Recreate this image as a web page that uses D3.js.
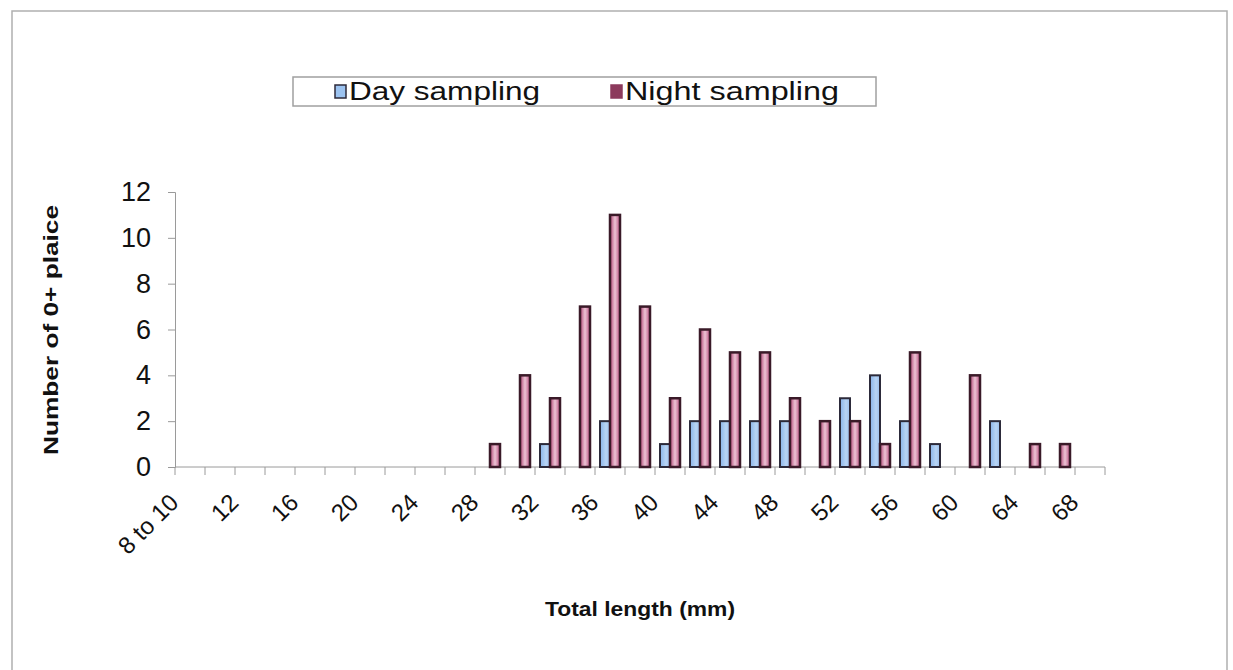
<!DOCTYPE html>
<html>
<head>
<meta charset="utf-8">
<script src="https://cdn.jsdelivr.net/npm/d3@7"></script>
<style>
  body { margin: 0; background: #fff; }
  text { font-family: "Liberation Sans", Arial, sans-serif; }
</style>
</head>
<body>
<div id="chart"></div>
<script>
// Length classes (mm) and counts of 0+ plaice
var categories = ['8 to 10', '10', '12', '14', '16', '18', '20', '22', '24', '26', '28', '30',
  '32', '34', '36', '38', '40', '42', '44', '46', '48', '50', '52', '54', '56', '58',
  '60', '62', '64', '66', '68'];
var daySampling = [0, 0, 0, 0, 0, 0, 0, 0, 0, 0, 0, 0,
  1, 0, 2, 0, 1, 2, 2, 2, 2, 0, 3, 4, 2, 1,
  0, 2, 0, 0, 0];
var nightSampling = [0, 0, 0, 0, 0, 0, 0, 0, 0, 0, 1, 4,
  3, 7, 11, 7, 3, 6, 5, 5, 3, 2, 2, 1, 5, 0,
  4, 0, 1, 1, 0];
var seriesNames = ['Day sampling', 'Night sampling'];
var yTicks = [0, 2, 4, 6, 8, 10, 12];

var W = 1233, H = 670;
var plot = { left: 175, right: 1105, top: 192, bottom: 467 };

var svg = d3.select('#chart')
  .append('svg')
  .attr('width', W)
  .attr('height', H);

// outer frame (bottom edge is cut off in the original)
svg.append('path')
  .attr('d', 'M12,670 V11 H1227 V670')
  .attr('fill', 'none')
  .attr('stroke', '#b0b0b0')
  .attr('stroke-width', 1.5);

var x = d3.scaleBand()
  .domain(categories)
  .range([plot.left, plot.right])
  .padding(0);

var xs = d3.scaleBand()
  .domain(['day', 'night'])
  .range([0, x.bandwidth()])
  .paddingInner(0)
  .paddingOuter(0.5);

var y = d3.scaleLinear()
  .domain([0, 12])
  .range([plot.bottom, plot.top]);

// y axis
var yAxis = svg.append('g')
  .attr('transform', 'translate(' + plot.left + ',0)')
  .call(d3.axisLeft(y).tickValues(yTicks).tickSize(7).tickPadding(17));
yAxis.select('.domain').attr('stroke', '#9a9a9a');
yAxis.selectAll('.tick line').attr('stroke', '#9a9a9a');
yAxis.selectAll('.tick text')
  .style('font-size', '27px')
  .attr('fill', '#111');

// x axis line and category boundary ticks
svg.append('line')
  .attr('x1', plot.left).attr('x2', plot.right)
  .attr('y1', plot.bottom).attr('y2', plot.bottom)
  .attr('stroke', '#9a9a9a');

svg.selectAll('.xtick')
  .data(categories.concat(['end']))
  .enter()
  .append('line')
  .attr('class', 'xtick')
  .attr('x1', function (d, i) { return plot.left + i * x.step(); })
  .attr('x2', function (d, i) { return plot.left + i * x.step(); })
  .attr('y1', plot.bottom)
  .attr('y2', plot.bottom + 8)
  .attr('stroke', '#9a9a9a');

// x labels every other category, rotated
svg.selectAll('.xlabel')
  .data(categories.filter(function (d, i) { return i % 2 === 0; }))
  .enter()
  .append('text')
  .attr('class', 'xlabel')
  .attr('transform', function (d) {
    return 'translate(' + (x(d) + x.bandwidth() / 2 - 16) + ',' + (plot.bottom + 31) + ') rotate(-45)';
  })
  .attr('text-anchor', 'end')
  .attr('dy', '0.35em')
  .style('font-size', '24px')
  .attr('fill', '#111')
  .text(function (d) { return d; });

// bars
var defs = svg.append('defs');
var dayGrad = defs.append('linearGradient')
  .attr('id', 'dayGrad').attr('x1', 0).attr('x2', 1).attr('y1', 0).attr('y2', 0);
dayGrad.append('stop').attr('offset', '0%').attr('stop-color', '#8ab4ea');
dayGrad.append('stop').attr('offset', '60%').attr('stop-color', '#b8d4f4');
dayGrad.append('stop').attr('offset', '100%').attr('stop-color', '#98bdec');

var nightGrad = defs.append('linearGradient')
  .attr('id', 'nightGrad').attr('x1', 0).attr('x2', 1).attr('y1', 0).attr('y2', 0);
nightGrad.append('stop').attr('offset', '0%').attr('stop-color', '#b04474');
nightGrad.append('stop').attr('offset', '50%').attr('stop-color', '#ecc4d4');
nightGrad.append('stop').attr('offset', '100%').attr('stop-color', '#b85080');

svg.selectAll('.day-bar')
  .data(daySampling.map(function (v, i) { return { cat: categories[i], v: v }; })
    .filter(function (d) { return d.v > 0; }))
  .enter()
  .append('rect')
  .attr('class', 'day-bar')
  .attr('x', function (d) { return x(d.cat) + xs('day'); })
  .attr('y', function (d) { return y(d.v); })
  .attr('width', xs.bandwidth())
  .attr('height', function (d) { return y(0) - y(d.v); })
  .attr('fill', 'url(#dayGrad)')
  .attr('stroke', '#2c2a3a')
  .attr('stroke-width', 2);

svg.selectAll('.night-bar')
  .data(nightSampling.map(function (v, i) { return { cat: categories[i], v: v }; })
    .filter(function (d) { return d.v > 0; }))
  .enter()
  .append('rect')
  .attr('class', 'night-bar')
  .attr('x', function (d) { return x(d.cat) + xs('night'); })
  .attr('y', function (d) { return y(d.v); })
  .attr('width', xs.bandwidth())
  .attr('height', function (d) { return y(0) - y(d.v); })
  .attr('fill', 'url(#nightGrad)')
  .attr('stroke', '#3a1a28')
  .attr('stroke-width', 2.5);

// axis titles
svg.append('text')
  .attr('transform', 'translate(58,330) rotate(-90)')
  .attr('text-anchor', 'middle')
  .style('font-size', '21px')
  .style('font-weight', 'bold')
  .attr('fill', '#111')
  .attr('textLength', 250)
  .attr('lengthAdjust', 'spacingAndGlyphs')
  .text('Number of 0+ plaice');

svg.append('text')
  .attr('x', 640).attr('y', 616)
  .attr('text-anchor', 'middle')
  .style('font-size', '21px')
  .style('font-weight', 'bold')
  .attr('fill', '#111')
  .attr('textLength', 190)
  .attr('lengthAdjust', 'spacingAndGlyphs')
  .text('Total length (mm)');

// legend
var legend = svg.append('g');
legend.append('rect')
  .attr('x', 293).attr('y', 77)
  .attr('width', 583).attr('height', 29)
  .attr('fill', '#fff')
  .attr('stroke', '#a0a0a0')
  .attr('stroke-width', 1.5);

var legendX = [335, 611];
var legendLen = [191, 214];
var legendFill = ['#9cc3f0', '#8c3a5c'];
var legendStroke = ['#2c2a3a', '#8c3a5c'];
legend.selectAll('.lg-swatch')
  .data(seriesNames)
  .enter()
  .append('rect')
  .attr('class', 'lg-swatch')
  .attr('x', function (d, i) { return legendX[i]; })
  .attr('y', 85)
  .attr('width', 11).attr('height', 13)
  .attr('fill', function (d, i) { return legendFill[i]; })
  .attr('stroke', function (d, i) { return legendStroke[i]; })
  .attr('stroke-width', 1.5);

legend.selectAll('.lg-text')
  .data(seriesNames)
  .enter()
  .append('text')
  .attr('class', 'lg-text')
  .attr('x', function (d, i) { return legendX[i] + 14; })
  .attr('y', 100)
  .style('font-size', '26px')
  .attr('fill', '#111')
  .attr('textLength', function (d, i) { return legendLen[i]; })
  .attr('lengthAdjust', 'spacingAndGlyphs')
  .text(function (d) { return d; });
</script>
</body>
</html>
